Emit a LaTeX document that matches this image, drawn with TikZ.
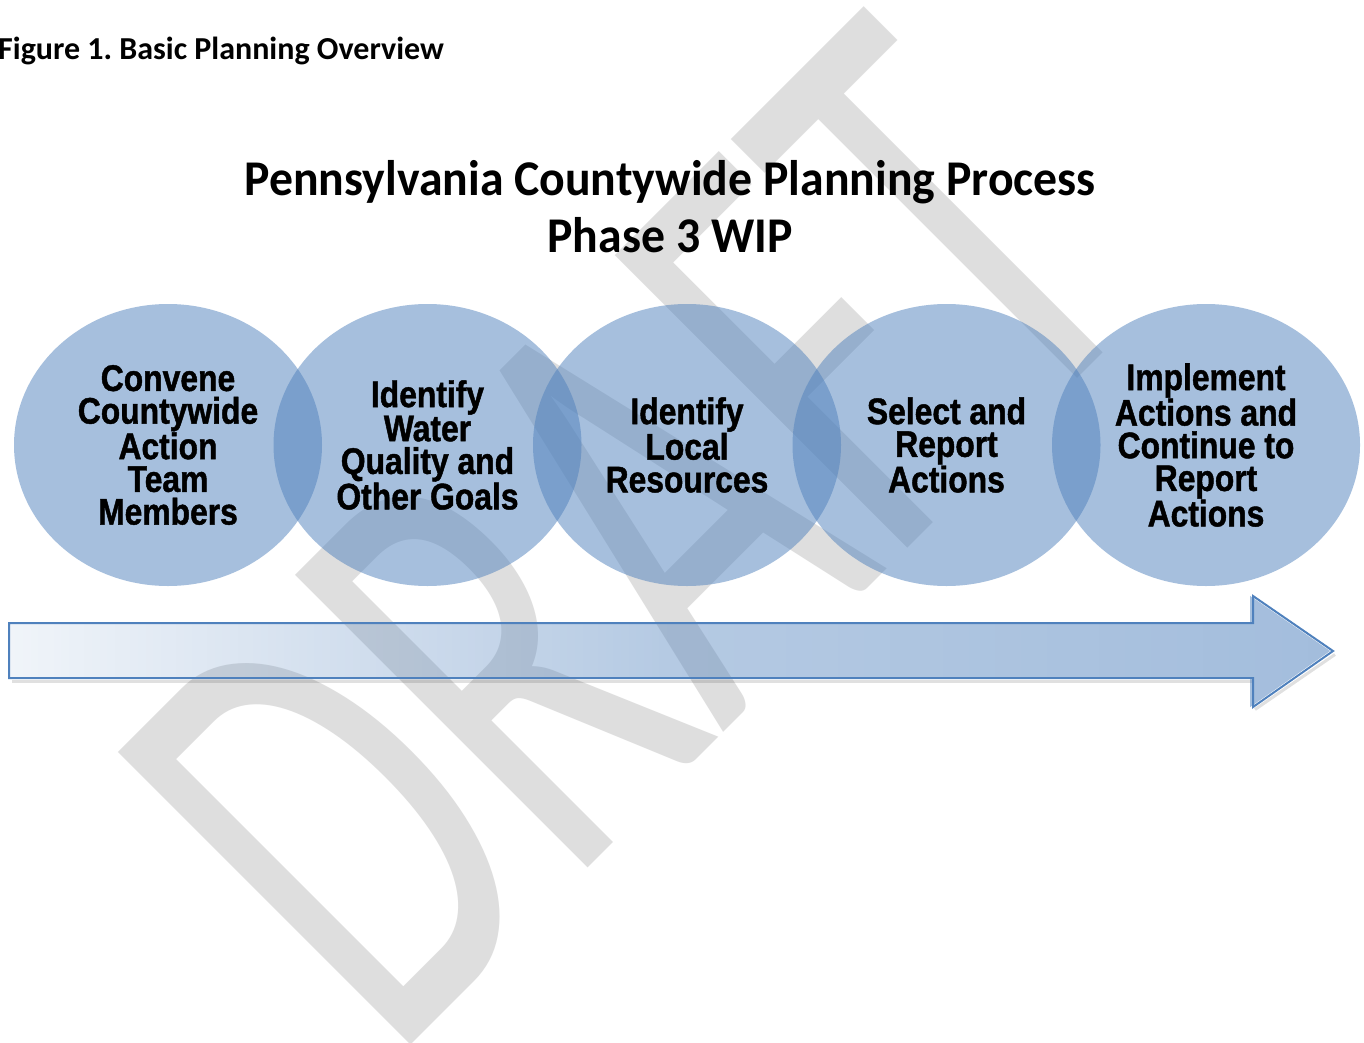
\documentclass[tikz,border=0pt]{standalone}
\usepackage{fontspec}
\setmainfont{Carlito}
\newfontfamily\capfont{Carlito}
\newfontfamily\ttlfont{Carlito}[FakeStretch=0.955]
\newfontfamily\circfont{Liberation Sans}[FakeStretch=0.86, FakeBold=1.2]
\newfontfamily\wmfont{Carlito}[FakeStretch=0.628]
\usetikzlibrary{fadings,shapes.geometric}
\definecolor{accent}{RGB}{79,129,189}
\definecolor{wmgray}{RGB}{222,222,222}
\tikzfading[name=arrowfade, left color=transparent!92, right color=transparent!48, middle color=transparent!58]
\frenchspacing
\begin{document}
\begin{tikzpicture}[x=1pt,y=-1pt,
  circ/.style={ellipse, minimum width=308pt, minimum height=282pt, inner sep=0pt, fill=accent, fill opacity=0.5, draw=none},
  ctext/.style={font=\circfont\bfseries\fontsize{37}{32.7}\selectfont, align=center, inner sep=0pt, text=black},
  ttl/.style={font=\ttlfont\bfseries\fontsize{50}{57}\selectfont, inner sep=0pt, text=black},
  capstyle/.style={font=\capfont\bfseries\fontsize{32}{38}\selectfont, inner sep=0pt, text=black},
  wmstyle/.style={font=\wmfont\fontsize{645}{645}\selectfont, inner sep=0pt, text=wmgray},
  arrowline/.style={draw=accent, line width=2pt, line join=miter},
  shadowline/.style={black, opacity=0.12, line width=3pt}
]
\useasboundingbox (0,0) rectangle (1364,1043);
\fill[white] (0,0) rectangle (1364,1043);
% watermark
\node[wmstyle, anchor=base west, rotate=45] (draft) at (391,1065) {DRAFT};
% circles
\node[circ] (c1) at (168,445) {};
\node[circ] (c2) at (427.5,445) {};
\node[circ] (c3) at (687,445) {};
\node[circ] (c4) at (946.5,445) {};
\node[circ] (c5) at (1206,445) {};
% arrow
\coordinate (a1) at (9,623);
\coordinate (a2) at (1253,623);
\coordinate (a3) at (1253,596);
\coordinate (a4) at (1333,651);
\coordinate (a5) at (1253,707);
\coordinate (a6) at (1253,678);
\coordinate (a7) at (9,678);
\draw[shadowline] (12,681.5) -- (1253,681.5);
\draw[shadowline] (1255,709.5) -- (1335,654.5);
\path[fill=accent, path fading=arrowfade] (a1) -- (a2) -- (a3) -- (a4) -- (a5) -- (a6) -- (a7) -- cycle;
\draw[arrowline] (a1) -- (a2) -- (a3) -- (a4) -- (a5) -- (a6) -- (a7) -- cycle;
% texts
\node[capstyle, anchor=base west] (fig) at (-2,60) {Figure 1. Basic Planning Overview};
\node[ttl, anchor=base] (title1) at (670,195) {Pennsylvania Countywide Planning Process};
\node[ttl, anchor=base] (title2) at (670,252) {Phase 3 WIP};
\node[ctext] (t1) at (c1) {Convene\\Countywide\\Action\\Team\\Members};
\node[ctext] (t2) at (c2) {Identify\\Water\\Quality and\\Other Goals};
\node[ctext] (t3) at (c3) {Identify\\Local\\Resources};
\node[ctext] (t4) at (c4) {Select and\\Report\\Actions};
\node[ctext] (t5) at (c5) {Implement\\Actions and\\Continue to\\Report\\Actions};
\end{tikzpicture}
\end{document}
